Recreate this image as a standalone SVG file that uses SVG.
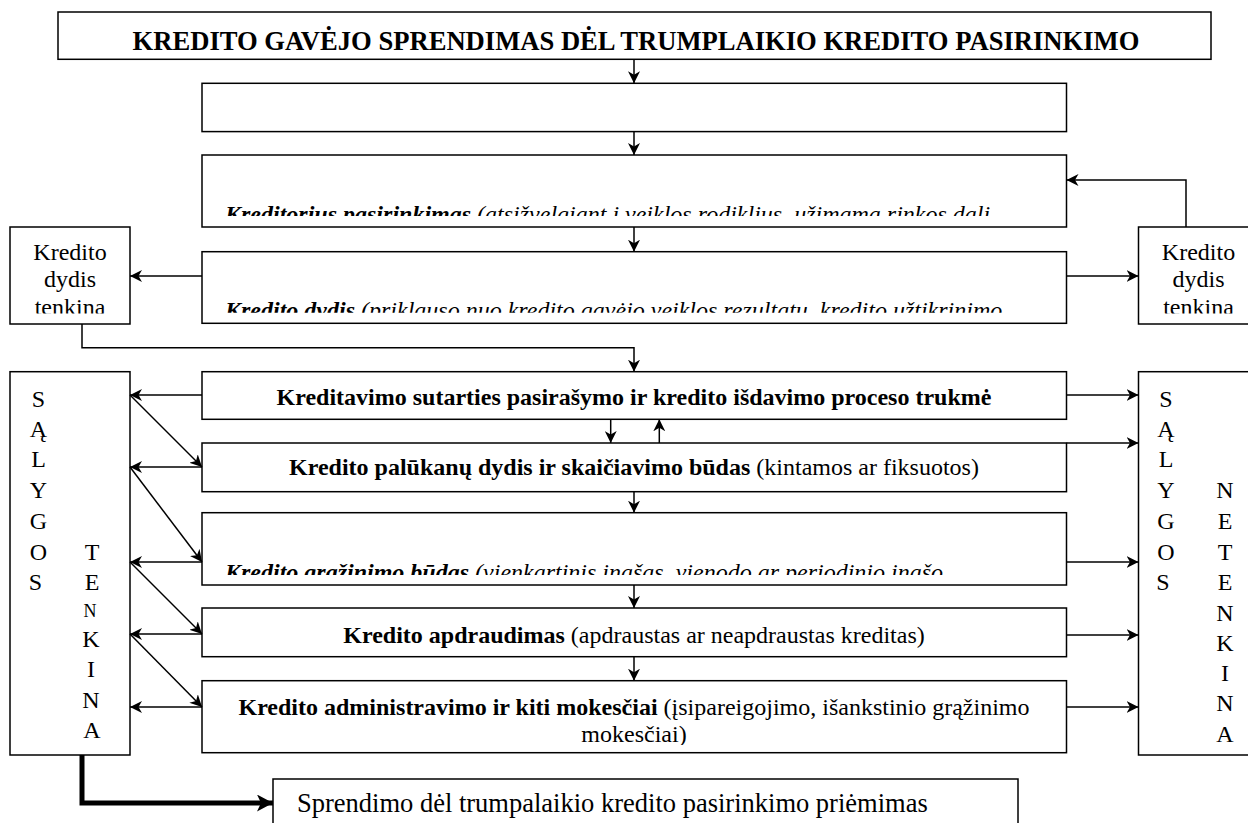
<svg xmlns="http://www.w3.org/2000/svg" width="1248" height="823" viewBox="0 0 1248 823">
<defs>
<style>
.box{fill:#fff;stroke:#000;stroke-width:1.5}
.t{font-family:"Liberation Serif","Times New Roman",serif;font-size:24px;fill:#000}
.b{font-weight:bold}
.i{font-style:italic}
.big{font-size:26.6px}
.c{stroke:#000;stroke-width:1.5;fill:none}
.thick{stroke:#000;stroke-width:5;fill:none}
</style>
<marker id="ah" viewBox="0 0 12 12" refX="12" refY="6" markerWidth="12" markerHeight="12" markerUnits="userSpaceOnUse" orient="auto">
<path d="M0,0 L12,6 L0,12 L3.5,6 z" fill="#000"/>
</marker>
<marker id="ahT" viewBox="0 0 16 17" refX="16" refY="8.5" markerWidth="16" markerHeight="17" markerUnits="userSpaceOnUse" orient="auto">
<path d="M0,0 L16,8.5 L0,17 L4,8.5 z" fill="#000"/>
</marker>
<clipPath id="clip3"><rect x="202" y="155" width="864.5" height="61"/></clipPath>
<clipPath id="clip4"><rect x="202" y="252" width="864.5" height="60.7"/></clipPath>
<clipPath id="clip7"><rect x="202" y="513" width="864.5" height="62"/></clipPath>
<clipPath id="clip9"><rect x="202" y="681" width="864.5" height="64"/></clipPath>
<clipPath id="clipKL"><rect x="10" y="227" width="120" height="86.5"/></clipPath>
<clipPath id="clipKR"><rect x="1138.5" y="227" width="120" height="86.5"/></clipPath>
</defs>

<g id="title">
<rect class="box" x="58" y="12" width="1153" height="47.3"/>
<text class="t b big" x="636" y="49.5" text-anchor="middle">KREDITO GAVĖJO SPRENDIMAS DĖL TRUMPLAIKIO KREDITO PASIRINKIMO</text>
</g>

<g id="box2">
<rect class="box" x="202" y="83.3" width="864.5" height="48.3"/>
</g>

<g id="box3">
<rect class="box" x="202" y="155" width="864.5" height="72"/>
<text class="t i" x="225" y="221.5" clip-path="url(#clip3)"><tspan class="b">Kreditorius pasirinkimas</tspan> (atsižvelgiant į veiklos rodiklius, užimama rinkos dalį</text>
</g>

<g id="box4">
<rect class="box" x="202" y="251.7" width="864.5" height="71.6"/>
<text class="t i" x="225" y="318" clip-path="url(#clip4)"><tspan class="b">Kredito dydis</tspan> (priklauso nuo kredito gavėjo veiklos rezultatų, kredito užtikrinimo</text>
</g>

<g id="kdt-left">
<rect class="box" x="10" y="227" width="120" height="97"/>
<text class="t" text-anchor="middle" clip-path="url(#clipKL)"><tspan x="70" y="260">Kredito</tspan><tspan x="70" y="287">dydis</tspan><tspan x="70" y="315">tenkina</tspan></text>
</g>

<g id="kdt-right">
<rect class="box" x="1138.5" y="227" width="120" height="97"/>
<text class="t" text-anchor="middle" clip-path="url(#clipKR)"><tspan x="1198.5" y="260">Kredito</tspan><tspan x="1198.5" y="287">dydis</tspan><tspan x="1198.5" y="315">tenkina</tspan></text>
</g>

<g id="box5">
<rect class="box" x="202" y="371.7" width="864.5" height="47.6"/>
<text class="t b" x="634" y="405" text-anchor="middle">Kreditavimo sutarties pasirašymo ir kredito išdavimo proceso trukmė</text>
</g>

<g id="box6">
<rect class="box" x="202" y="443" width="864.5" height="48.7"/>
<text class="t" x="634" y="475" text-anchor="middle"><tspan class="b">Kredito palūkanų dydis ir skaičiavimo būdas</tspan> (kintamos ar fiksuotos)</text>
</g>

<g id="box7">
<rect class="box" x="202" y="512.7" width="864.5" height="72.3"/>
<text class="t i" x="225" y="580" clip-path="url(#clip7)"><tspan class="b">Kredito grąžinimo būdas</tspan> (vienkartinis įnašas, vienodo ar periodinio įnašo</text>
</g>

<g id="box8">
<rect class="box" x="202" y="608" width="864.5" height="48.7"/>
<text class="t" x="634" y="643.3" text-anchor="middle"><tspan class="b">Kredito apdraudimas</tspan> (apdraustas ar neapdraustas kreditas)</text>
</g>

<g id="box9">
<rect class="box" x="202" y="680.7" width="864.5" height="72"/>
<text class="t" text-anchor="middle" clip-path="url(#clip9)"><tspan x="634" y="715"><tspan class="b">Kredito administravimo ir kiti mokesčiai</tspan> (įsipareigojimo, išankstinio grąžinimo</tspan><tspan x="634" y="742">mokesčiai)</tspan></text>
</g>

<g id="salygos-tenkina">
<rect class="box" x="10" y="371.7" width="120" height="383.3"/>
<text class="t" text-anchor="middle">
<tspan x="38.5" y="407">S</tspan><tspan x="38.5" y="437">Ą</tspan><tspan x="38.5" y="467">L</tspan><tspan x="38.5" y="498">Y</tspan><tspan x="38.5" y="529">G</tspan><tspan x="38.5" y="560">O</tspan><tspan x="38.5" y="590">S</tspan>
<tspan x="92" y="560">T</tspan><tspan x="92" y="590">E</tspan><tspan x="90" y="617" style="font-size:18px">N</tspan><tspan x="91" y="647">K</tspan><tspan x="91" y="677">I</tspan><tspan x="91" y="708">N</tspan><tspan x="92" y="738">A</tspan>
</text>
</g>

<g id="salygos-netenkina">
<rect class="box" x="1138.5" y="371.7" width="120" height="383.3"/>
<text class="t" text-anchor="middle">
<tspan x="1166" y="407">S</tspan><tspan x="1166" y="437">Ą</tspan><tspan x="1166" y="467">L</tspan><tspan x="1166" y="498">Y</tspan><tspan x="1166" y="529">G</tspan><tspan x="1166" y="560">O</tspan><tspan x="1166" y="590">S</tspan>
<tspan x="1225" y="498">N</tspan><tspan x="1225" y="529">E</tspan><tspan x="1225" y="560">T</tspan><tspan x="1225" y="590">E</tspan><tspan x="1225" y="621">N</tspan><tspan x="1225" y="651">K</tspan><tspan x="1225" y="681">I</tspan><tspan x="1225" y="711">N</tspan><tspan x="1225" y="742">A</tspan>
</text>
</g>

<g id="decision">
<rect class="box" x="273" y="779" width="745" height="60"/>
<text class="t" x="297" y="812" style="font-size:26.5px">Sprendimo dėl trumpalaikio kredito pasirinkimo priėmimas</text>
</g>

<g id="connectors">
<line class="c" x1="634" y1="59.3" x2="634" y2="83.3" marker-end="url(#ah)"/>
<line class="c" x1="634" y1="131.6" x2="634" y2="155" marker-end="url(#ah)"/>
<line class="c" x1="634" y1="227" x2="634" y2="251.7" marker-end="url(#ah)"/>
<path class="c" d="M1186,227 V180 H1066.5" marker-end="url(#ah)"/>
<line class="c" x1="202" y1="276" x2="130" y2="276" marker-end="url(#ah)"/>
<line class="c" x1="1066.5" y1="276" x2="1138.5" y2="276" marker-end="url(#ah)"/>
<path class="c" d="M82,324 V347.7 H634 V371.7" marker-end="url(#ah)"/>
<line class="c" x1="610.7" y1="419.3" x2="610.7" y2="443" marker-end="url(#ah)"/>
<line class="c" x1="659.3" y1="443" x2="659.3" y2="419.3" marker-end="url(#ah)"/>
<line class="c" x1="634" y1="491.7" x2="634" y2="512.7" marker-end="url(#ah)"/>
<line class="c" x1="634" y1="585" x2="634" y2="608" marker-end="url(#ah)"/>
<line class="c" x1="634" y1="656.7" x2="634" y2="680.7" marker-end="url(#ah)"/>
<line class="c" x1="202" y1="395" x2="130" y2="395" marker-end="url(#ah)"/>
<line class="c" x1="130" y1="395" x2="202" y2="467" marker-end="url(#ah)"/>
<line class="c" x1="202" y1="467" x2="130" y2="467" marker-end="url(#ah)"/>
<line class="c" x1="130" y1="467" x2="202" y2="562" marker-end="url(#ah)"/>
<line class="c" x1="202" y1="562" x2="130" y2="562" marker-end="url(#ah)"/>
<line class="c" x1="130" y1="562" x2="202" y2="634" marker-end="url(#ah)"/>
<line class="c" x1="202" y1="634" x2="130" y2="634" marker-end="url(#ah)"/>
<line class="c" x1="130" y1="634" x2="202" y2="707" marker-end="url(#ah)"/>
<line class="c" x1="202" y1="707" x2="130" y2="707" marker-end="url(#ah)"/>
<line class="c" x1="1066.5" y1="395" x2="1138.5" y2="395" marker-end="url(#ah)"/>
<line class="c" x1="1066.5" y1="443" x2="1138.5" y2="443" marker-end="url(#ah)"/>
<line class="c" x1="1066.5" y1="562" x2="1138.5" y2="562" marker-end="url(#ah)"/>
<line class="c" x1="1066.5" y1="635" x2="1138.5" y2="635" marker-end="url(#ah)"/>
<line class="c" x1="1066.5" y1="707" x2="1138.5" y2="707" marker-end="url(#ah)"/>
<path class="thick" d="M82,755 V803 H273" marker-end="url(#ahT)"/>
</g>
</svg>
